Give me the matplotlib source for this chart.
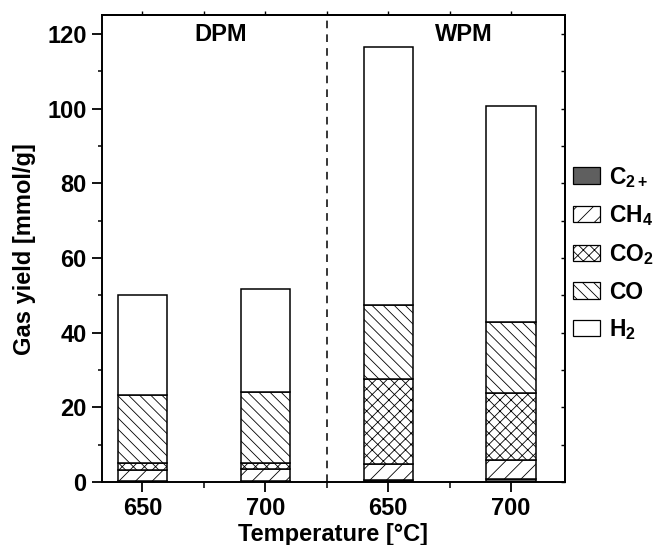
import matplotlib
matplotlib.use("Agg")
import matplotlib.pyplot as plt
from matplotlib.patches import Patch
from matplotlib.ticker import MultipleLocator, FixedLocator, NullFormatter

plt.rcParams['font.family'] = ['Liberation Sans', 'DejaVu Sans']
plt.rcParams['font.weight'] = 'bold'
plt.rcParams['mathtext.fontset'] = 'custom'
plt.rcParams['mathtext.rm'] = 'Liberation Sans:bold'
plt.rcParams['mathtext.default'] = 'rm'
plt.rcParams['hatch.linewidth'] = 0.6

# Data (stack bottom -> top: C2+, CH4, CO2, CO, H2), cumulative tops
positions = [1, 2, 3, 4]
tick_labels = ['650', '700', '650', '700']
group_labels = ['DPM', 'WPM']
c2_top = [0.3, 0.3, 0.5, 0.8]
ch4_top = [3.2, 3.5, 4.9, 5.9]
co2_top = [5.2, 5.1, 27.6, 23.8]
co_top = [23.2, 24.0, 47.3, 43.0]
h2_top = [50.0, 51.8, 116.5, 100.8]

series_names = ['C$_{2+}$', 'CH$_4$', 'CO$_2$', 'CO', 'H$_2$']
hatches = ['', '//', 'xxx', '\\\\\\', '']
faces = ['#5f5f5f', 'white', 'white', 'white', 'white']

fig = plt.figure(figsize=(6.57, 5.45), dpi=100)
ax = fig.add_axes([0.155, 0.1156, 0.705, 0.856])

tops = [c2_top, ch4_top, co2_top, co_top, h2_top]
bottom = [0, 0, 0, 0]
handles = []
for name, top, h, fc in zip(series_names, tops, hatches, faces):
    heights = [t - b for t, b in zip(top, bottom)]
    ax.bar(positions, heights, width=0.4, bottom=bottom, color=fc,
           edgecolor='black', hatch=h, linewidth=1.1, zorder=2)
    handles.append(Patch(facecolor=fc, edgecolor='black', hatch=h, linewidth=0.9, label=name))
    bottom = list(top)

ax.axvline(2.5, color='black', linestyle=(0, (5, 4)), linewidth=1.1, zorder=1)
ax.text(1.64, 120, group_labels[0], ha='center', va='center', fontsize=17, fontweight='bold')
ax.text(3.62, 120, group_labels[1], ha='center', va='center', fontsize=17, fontweight='bold')

ax.set_xlim(0.67, 4.44)
ax.set_ylim(0, 125)
ax.set_xticks(positions)
ax.set_xticklabels(tick_labels)
ax.xaxis.set_minor_locator(FixedLocator([1.5, 2.5, 3.5]))
ax.yaxis.set_major_locator(MultipleLocator(20))
ax.yaxis.set_minor_locator(MultipleLocator(10))

for s in ax.spines.values():
    s.set_linewidth(1.4)

ax.tick_params(axis='both', which='major', labelsize=17, width=1.3, length=7, direction='out', pad=4)
ax.tick_params(axis='x', which='minor', width=1.1, length=4, direction='out')
ax.tick_params(axis='y', which='minor', width=1.1, length=3, direction='out')

# top and right decorative ticks
secx = ax.secondary_xaxis('top')
secx.set_xticks(positions)
secx.xaxis.set_minor_locator(FixedLocator([1.5, 2.5, 3.5]))
secx.xaxis.set_major_formatter(NullFormatter())
secx.tick_params(which='both', direction='out', length=3, width=1.0)
secx.spines['top'].set_linewidth(1.4)

secy = ax.secondary_yaxis('right')
secy.yaxis.set_major_locator(MultipleLocator(20))
secy.yaxis.set_minor_locator(MultipleLocator(10))
secy.yaxis.set_major_formatter(NullFormatter())
secy.tick_params(which='both', direction='in', length=3, width=1.0)
secy.spines['right'].set_linewidth(1.4)

ax.set_xlabel('Temperature [°C]', fontsize=17, fontweight='bold', labelpad=2)
ax.set_ylabel('Gas yield [mmol/g]', fontsize=17, fontweight='bold', labelpad=8)

leg = fig.legend(handles=handles, loc='center left', bbox_to_anchor=(0.872, 0.535),
                 frameon=False, fontsize=16.5, handlelength=1.19, handleheight=0.72,
                 handletextpad=0.38, labelspacing=0.6, borderpad=0.0, borderaxespad=0.0)

fig.savefig('out.png', dpi=100)
